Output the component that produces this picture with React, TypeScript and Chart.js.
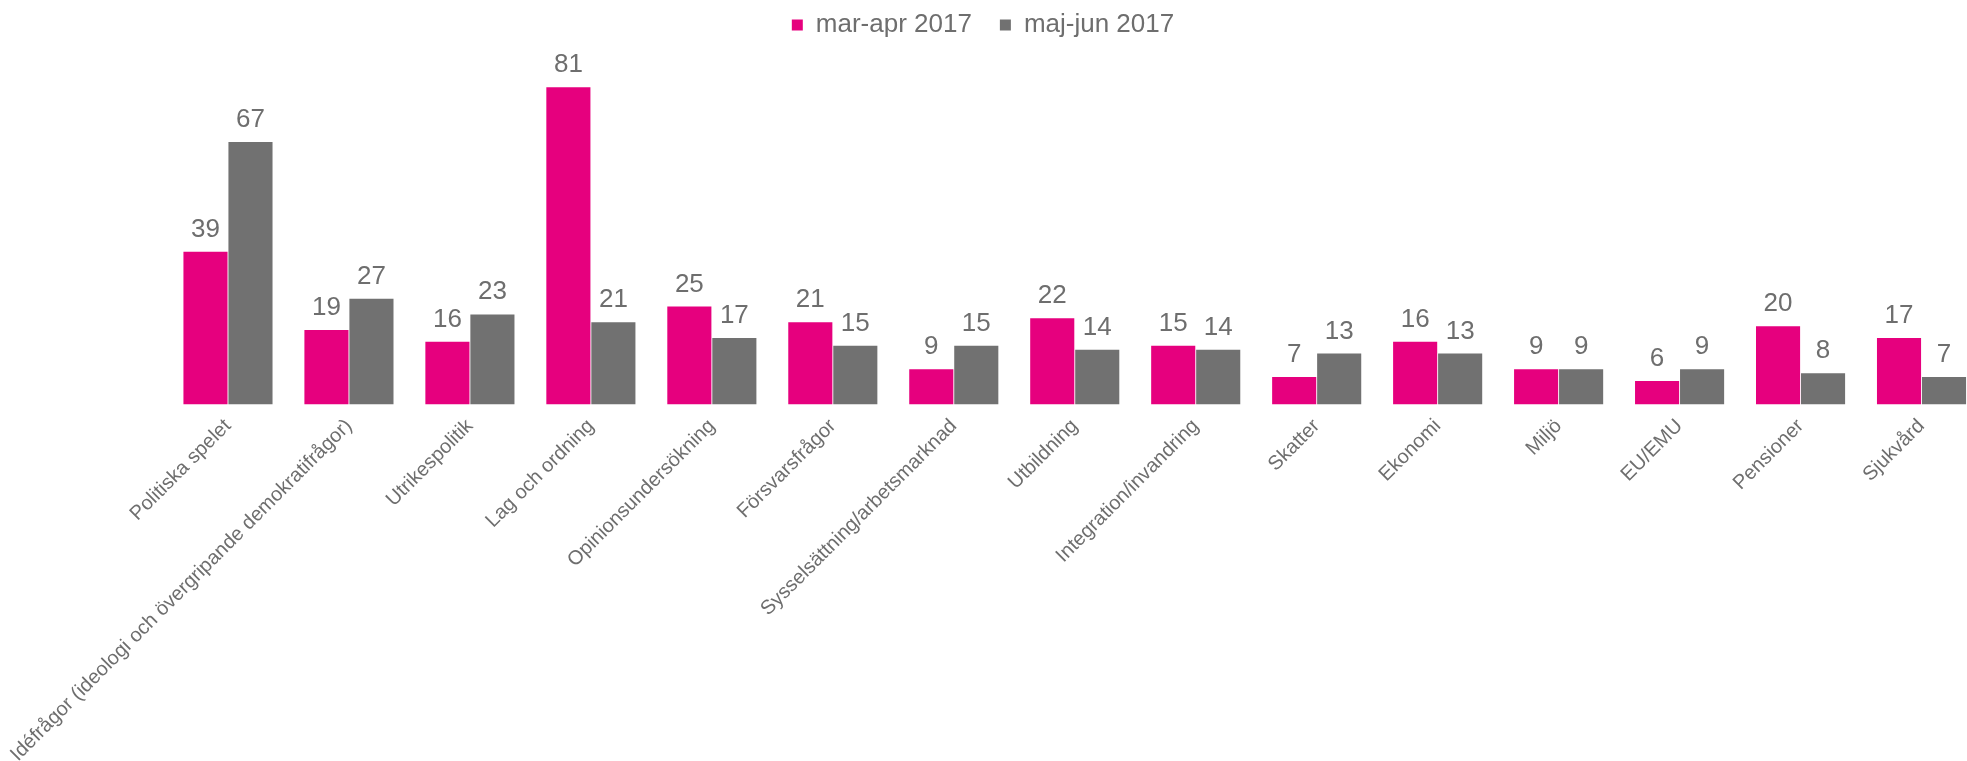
import React, { useEffect, useRef } from "react";
import { Chart, registerables } from "chart.js";

Chart.register(...registerables);

const categories = [
  "Politiska spelet",
  "Idéfrågor (ideologi och övergripande demokratifrågor)",
  "Utrikespolitik",
  "Lag och ordning",
  "Opinionsundersökning",
  "Försvarsfrågor",
  "Sysselsättning/arbetsmarknad",
  "Utbildning",
  "Integration/invandring",
  "Skatter",
  "Ekonomi",
  "Miljö",
  "EU/EMU",
  "Pensioner",
  "Sjukvård",
];

const seriesNames = ["mar-apr 2017", "maj-jun 2017"];
const marApr2017 = [39, 19, 16, 81, 25, 21, 9, 22, 15, 7, 16, 9, 6, 20, 17];
const majJun2017 = [67, 27, 23, 21, 17, 15, 15, 14, 14, 13, 13, 9, 9, 8, 7];

const Y_MAX = 91;

const PINK = "#E6007E";
const GRAY = "#717171";
const TEXT = "#6E6E6E";
const FONT = '"Liberation Sans", Arial, sans-serif';

const valueLabels = {
  id: "valueLabels",
  afterDatasetsDraw(chart: any) {
    const ctx = chart.ctx;
    ctx.save();
    ctx.font = `26px ${FONT}`;
    ctx.fillStyle = TEXT;
    ctx.textAlign = "center";
    ctx.textBaseline = "alphabetic";
    chart.data.datasets.forEach((ds: any, i: number) => {
      const meta = chart.getDatasetMeta(i);
      meta.data.forEach((bar: any, j: number) => {
        ctx.fillText(String(ds.data[j]), bar.x, bar.y - 15);
      });
    });
    ctx.restore();
  },
};

export default function App() {
  const ref = useRef<HTMLCanvasElement | null>(null);

  useEffect(() => {
    if (!ref.current) return;
    const chart = new Chart(ref.current, {
      type: "bar",
      data: {
        labels: categories,
        datasets: [
          {
            label: seriesNames[0],
            data: marApr2017,
            backgroundColor: PINK,
            borderWidth: 0,
            barPercentage: 0.98,
            categoryPercentage: 0.744,
          },
          {
            label: seriesNames[1],
            data: majJun2017,
            backgroundColor: GRAY,
            borderWidth: 0,
            barPercentage: 0.98,
            categoryPercentage: 0.744,
          },
        ],
      },
      options: {
        responsive: false,
        animation: false,
        devicePixelRatio: 1,
        layout: { padding: 0 },
        plugins: {
          legend: {
            position: "top",
            align: "center",
            labels: {
              boxWidth: 11,
              boxHeight: 11,
              padding: 28,
              color: TEXT,
              font: { family: FONT, size: 26 },
            },
          },
          tooltip: { enabled: false },
        },
        scales: {
          x: {
            grid: { display: false, drawTicks: false },
            border: { display: false },
            ticks: {
              autoSkip: false,
              minRotation: 45,
              maxRotation: 45,
              padding: 10,
              color: TEXT,
              font: { family: FONT, size: 20 },
            },
            afterFit: (s: any) => {
              s.height = 379.5;
            },
          },
          y: {
            min: 0,
            max: Y_MAX,
            display: true,
            grid: { display: false, drawTicks: false },
            border: { display: false },
            ticks: { display: false },
            afterFit: (s: any) => {
              s.width = 183.5;
            },
          },
        },
      },
      plugins: [valueLabels],
    } as any);
    return () => chart.destroy();
  }, []);

  return (
    <div
      style={{
        position: "fixed",
        left: 0,
        top: 0,
        width: "100vw",
        height: "100vh",
        overflow: "hidden",
        background: "#fff",
      }}
    >
      <canvas
        ref={ref}
        width={1998}
        height={800}
        style={{ position: "absolute", left: -16, top: -16, width: 1998, height: 800 }}
      />
    </div>
  );
}
